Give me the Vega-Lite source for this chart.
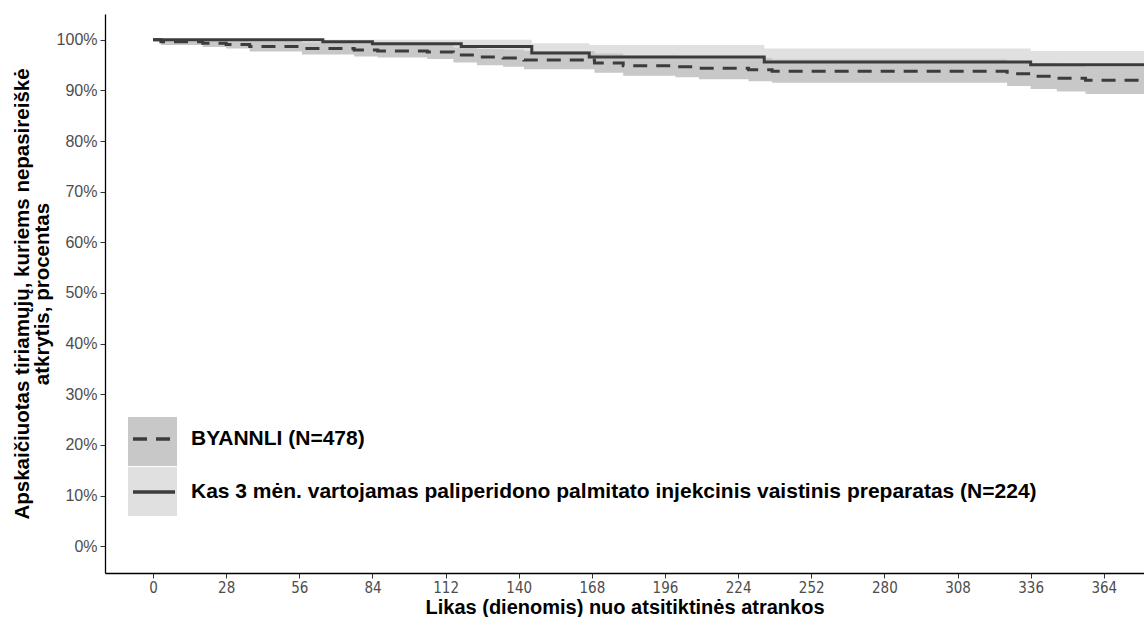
{
  "$schema": "https://vega.github.io/schema/vega-lite/v6.json",
  "width": 1039,
  "height": 559,
  "autosize": {"type": "none"},
  "padding": {"left": 105, "top": 14, "right": 0, "bottom": 44},
  "background": "white",
  "config": {
    "view": {"stroke": null},
    "font": "Liberation Sans",
    "axis": {"grid": false}
  },
  "datasets": {
    "bands": [
      {"arm": "BYANNLI (N=478)", "day": 0, "lower": 100, "upper": 100},
      {"arm": "BYANNLI (N=478)", "day": 3, "lower": 99.0, "upper": 100},
      {"arm": "BYANNLI (N=478)", "day": 19, "lower": 98.6, "upper": 100},
      {"arm": "BYANNLI (N=478)", "day": 28, "lower": 98.3, "upper": 99.9},
      {"arm": "BYANNLI (N=478)", "day": 37, "lower": 97.7, "upper": 99.7},
      {"arm": "BYANNLI (N=478)", "day": 57, "lower": 97.1, "upper": 99.5},
      {"arm": "BYANNLI (N=478)", "day": 77, "lower": 96.7, "upper": 99.3},
      {"arm": "BYANNLI (N=478)", "day": 86, "lower": 96.5, "upper": 99.1},
      {"arm": "BYANNLI (N=478)", "day": 105, "lower": 96.2, "upper": 99.0},
      {"arm": "BYANNLI (N=478)", "day": 115, "lower": 95.5, "upper": 98.5},
      {"arm": "BYANNLI (N=478)", "day": 124, "lower": 95.0, "upper": 98.2},
      {"arm": "BYANNLI (N=478)", "day": 134, "lower": 94.7, "upper": 98.1},
      {"arm": "BYANNLI (N=478)", "day": 142, "lower": 94.2, "upper": 97.8},
      {"arm": "BYANNLI (N=478)", "day": 169, "lower": 93.5, "upper": 97.3},
      {"arm": "BYANNLI (N=478)", "day": 180, "lower": 92.9, "upper": 96.9},
      {"arm": "BYANNLI (N=478)", "day": 200, "lower": 92.6, "upper": 96.8},
      {"arm": "BYANNLI (N=478)", "day": 209, "lower": 92.2, "upper": 96.6},
      {"arm": "BYANNLI (N=478)", "day": 228, "lower": 91.8, "upper": 96.4},
      {"arm": "BYANNLI (N=478)", "day": 237, "lower": 91.5, "upper": 96.1},
      {"arm": "BYANNLI (N=478)", "day": 327, "lower": 90.9, "upper": 95.7},
      {"arm": "BYANNLI (N=478)", "day": 336, "lower": 90.3, "upper": 95.3},
      {"arm": "BYANNLI (N=478)", "day": 346, "lower": 89.8, "upper": 95.0},
      {"arm": "BYANNLI (N=478)", "day": 357, "lower": 89.3, "upper": 94.7},
      {"arm": "BYANNLI (N=478)", "day": 380, "lower": 89.3, "upper": 94.7},
      {"arm": "Kas 3 mėn. vartojamas paliperidono palmitato injekcinis vaistinis preparatas (N=224)", "day": 0, "lower": 100, "upper": 100},
      {"arm": "Kas 3 mėn. vartojamas paliperidono palmitato injekcinis vaistinis preparatas (N=224)", "day": 65, "lower": 98.8, "upper": 100},
      {"arm": "Kas 3 mėn. vartojamas paliperidono palmitato injekcinis vaistinis preparatas (N=224)", "day": 84, "lower": 98.0, "upper": 100},
      {"arm": "Kas 3 mėn. vartojamas paliperidono palmitato injekcinis vaistinis preparatas (N=224)", "day": 118, "lower": 97.2, "upper": 100},
      {"arm": "Kas 3 mėn. vartojamas paliperidono palmitato injekcinis vaistinis preparatas (N=224)", "day": 145, "lower": 95.3, "upper": 99.3},
      {"arm": "Kas 3 mėn. vartojamas paliperidono palmitato injekcinis vaistinis preparatas (N=224)", "day": 167, "lower": 94.2, "upper": 99.0},
      {"arm": "Kas 3 mėn. vartojamas paliperidono palmitato injekcinis vaistinis preparatas (N=224)", "day": 234, "lower": 92.9, "upper": 98.3},
      {"arm": "Kas 3 mėn. vartojamas paliperidono palmitato injekcinis vaistinis preparatas (N=224)", "day": 336, "lower": 92.2, "upper": 97.8},
      {"arm": "Kas 3 mėn. vartojamas paliperidono palmitato injekcinis vaistinis preparatas (N=224)", "day": 380, "lower": 92.2, "upper": 97.8}
    ],
    "curves": [
      {"arm": "BYANNLI (N=478)", "day": 0, "surv": 100},
      {"arm": "BYANNLI (N=478)", "day": 3, "surv": 99.6},
      {"arm": "BYANNLI (N=478)", "day": 19, "surv": 99.3},
      {"arm": "BYANNLI (N=478)", "day": 28, "surv": 99.1},
      {"arm": "BYANNLI (N=478)", "day": 37, "surv": 98.7},
      {"arm": "BYANNLI (N=478)", "day": 57, "surv": 98.3},
      {"arm": "BYANNLI (N=478)", "day": 77, "surv": 98.0},
      {"arm": "BYANNLI (N=478)", "day": 86, "surv": 97.8},
      {"arm": "BYANNLI (N=478)", "day": 105, "surv": 97.6},
      {"arm": "BYANNLI (N=478)", "day": 115, "surv": 97.0},
      {"arm": "BYANNLI (N=478)", "day": 124, "surv": 96.6},
      {"arm": "BYANNLI (N=478)", "day": 134, "surv": 96.4},
      {"arm": "BYANNLI (N=478)", "day": 142, "surv": 96.0},
      {"arm": "BYANNLI (N=478)", "day": 169, "surv": 95.4},
      {"arm": "BYANNLI (N=478)", "day": 180, "surv": 94.9},
      {"arm": "BYANNLI (N=478)", "day": 200, "surv": 94.7},
      {"arm": "BYANNLI (N=478)", "day": 209, "surv": 94.4},
      {"arm": "BYANNLI (N=478)", "day": 228, "surv": 94.1},
      {"arm": "BYANNLI (N=478)", "day": 237, "surv": 93.8},
      {"arm": "BYANNLI (N=478)", "day": 327, "surv": 93.3},
      {"arm": "BYANNLI (N=478)", "day": 336, "surv": 92.8},
      {"arm": "BYANNLI (N=478)", "day": 346, "surv": 92.4},
      {"arm": "BYANNLI (N=478)", "day": 357, "surv": 92.0},
      {"arm": "BYANNLI (N=478)", "day": 380, "surv": 92.0},
      {"arm": "Kas 3 mėn. vartojamas paliperidono palmitato injekcinis vaistinis preparatas (N=224)", "day": 0, "surv": 100},
      {"arm": "Kas 3 mėn. vartojamas paliperidono palmitato injekcinis vaistinis preparatas (N=224)", "day": 65, "surv": 99.6},
      {"arm": "Kas 3 mėn. vartojamas paliperidono palmitato injekcinis vaistinis preparatas (N=224)", "day": 84, "surv": 99.2},
      {"arm": "Kas 3 mėn. vartojamas paliperidono palmitato injekcinis vaistinis preparatas (N=224)", "day": 118, "surv": 98.7},
      {"arm": "Kas 3 mėn. vartojamas paliperidono palmitato injekcinis vaistinis preparatas (N=224)", "day": 145, "surv": 97.4},
      {"arm": "Kas 3 mėn. vartojamas paliperidono palmitato injekcinis vaistinis preparatas (N=224)", "day": 167, "surv": 96.6},
      {"arm": "Kas 3 mėn. vartojamas paliperidono palmitato injekcinis vaistinis preparatas (N=224)", "day": 234, "surv": 95.6},
      {"arm": "Kas 3 mėn. vartojamas paliperidono palmitato injekcinis vaistinis preparatas (N=224)", "day": 336, "surv": 95.1},
      {"arm": "Kas 3 mėn. vartojamas paliperidono palmitato injekcinis vaistinis preparatas (N=224)", "day": 380, "surv": 95.1}
    ]
  },
  "encoding": {
    "x": {
      "field": "day", "type": "quantitative",
      "scale": {"domain": [-18.4, 379.4], "nice": false, "zero": false},
      "axis": {
        "values": [0, 28, 56, 84, 112, 140, 168, 196, 224, 252, 280, 308, 336, 364],
        "title": "Likas (dienomis) nuo atsitiktinės atrankos",
        "titleFont": "Liberation Sans", "titleFontSize": 20, "titleFontWeight": "bold", "titleColor": "black",
        "titlePadding": 2,
        "labelFont": "Liberation Sans Narrow, DejaVu Sans Condensed, Liberation Sans",
        "labelFontSize": 15, "labelColor": "#4d4d4d", "labelPadding": 2,
        "tickSize": 5, "tickColor": "#333333", "tickWidth": 1,
        "domainColor": "black", "domainWidth": 1.3
      }
    }
  },
  "layer": [
    {
      "data": {"name": "bands"},
      "transform": [{"filter": "datum.arm !== 'BYANNLI (N=478)'"}],
      "mark": {"type": "area", "interpolate": "step-after", "clip": true},
      "encoding": {
        "y": {"field": "lower", "type": "quantitative"},
        "y2": {"field": "upper"},
        "fill": {"field": "arm", "type": "nominal", "scale": {"domain": ["BYANNLI (N=478)", "Kas 3 mėn. vartojamas paliperidono palmitato injekcinis vaistinis preparatas (N=224)"], "range": ["#c8c8c8", "#e0e0e0"]},
          "legend": {"orient": "none", "legendX": 23, "legendY": 403, "title": null, "symbolType": "square", "symbolSize": 2401, "symbolStrokeWidth": 0, "symbolOpacity": 1, "labelExpr": "''", "labelFontSize": 1, "rowPadding": 1, "padding": 0}}
      }
    },
    {
      "data": {"name": "bands"},
      "transform": [{"filter": "datum.arm === 'BYANNLI (N=478)'"}],
      "mark": {"type": "area", "interpolate": "step-after", "clip": true},
      "encoding": {
        "y": {"field": "lower", "type": "quantitative"},
        "y2": {"field": "upper"},
        "fill": {"field": "arm", "type": "nominal"}
      }
    },
    {
      "data": {"name": "curves"},
      "mark": {"type": "line", "interpolate": "step-after", "strokeWidth": 3, "color": "#3c3c3c", "clip": true},
      "encoding": {
        "y": {
          "field": "surv", "type": "quantitative",
          "scale": {"domain": [-5.3, 105.1], "nice": false, "zero": false},
          "axis": {
            "values": [0, 10, 20, 30, 40, 50, 60, 70, 80, 90, 100],
            "labelExpr": "datum.value + '%'",
            "title": ["Apskaičiuotas tiriamųjų, kuriems nepasireiškė", "atkrytis, procentas"],
            "titleFont": "Liberation Sans", "titleFontSize": 20.5, "titleFontWeight": "bold", "titleColor": "black",
            "titleLineHeight": 20, "titlePadding": 4,
            "labelFont": "Liberation Sans", "labelFontSize": 16, "labelColor": "#4d4d4d", "labelPadding": 3,
            "tickSize": 5, "tickColor": "#333333", "tickWidth": 1,
            "domainColor": "black", "domainWidth": 1.3
          }
        },
        "strokeDash": {"field": "arm", "type": "nominal",
          "scale": {"range": [[14, 9], [1, 0]]},
          "legend": {"orient": "none", "legendX": 26, "legendY": 402, "title": null, "symbolType": "stroke", "symbolSize": 1764, "symbolStrokeWidth": 3.5, "symbolStrokeColor": "#3c3c3c", "labelFont": "Liberation Sans", "labelFontSize": 21, "labelFontWeight": "bold", "labelColor": "black", "labelLimit": 1200, "labelOffset": 14, "rowPadding": 20, "padding": 0}}
      }
    }
  ]
}
